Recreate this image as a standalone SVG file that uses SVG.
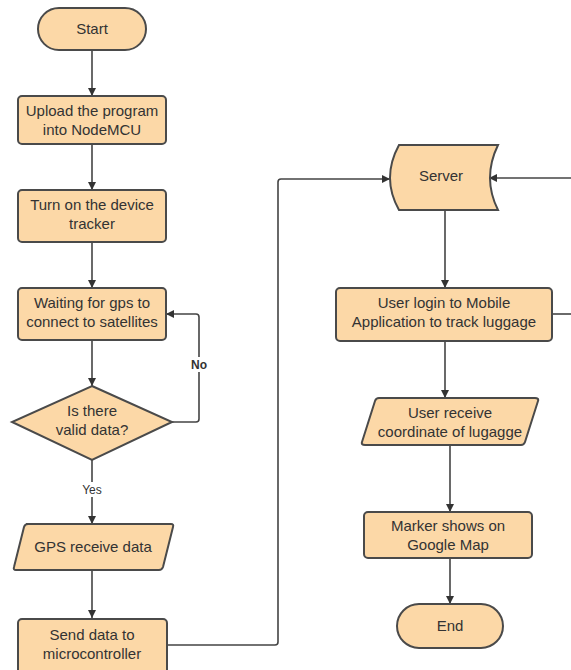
<svg xmlns="http://www.w3.org/2000/svg" width="571" height="670" viewBox="0 0 571 670">
<style>
.n{fill:#fcd8a7;stroke:#4a4a4a;stroke-width:2}
.t{font-family:"Liberation Sans",Arial,sans-serif;font-size:15px;fill:#333;text-anchor:middle}
.l{font-family:"Liberation Sans",Arial,sans-serif;font-size:12px;fill:#333;text-anchor:middle}
.c{fill:none;stroke:#444;stroke-width:1.6}
</style>
<defs>
<marker id="a" viewBox="0 0 10 10" refX="10" refY="5" markerWidth="8" markerHeight="8" markerUnits="userSpaceOnUse" orient="auto">
<path d="M0,0 L10,5 L0,10 z" fill="#333"/>
</marker>
</defs>
<rect width="571" height="670" fill="#fff"/>
<g id="connectors">
<path class="c" d="M92,50 V96" marker-end="url(#a)"/>
<path class="c" d="M92,144 V190" marker-end="url(#a)"/>
<path class="c" d="M92,242 V288" marker-end="url(#a)"/>
<path class="c" d="M92,340 V386" marker-end="url(#a)"/>
<path class="c" d="M172,422 H196 Q199,422 199,419 V317 Q199,314 196,314 H166" marker-end="url(#a)"/>
<path class="c" d="M92,460 V524" marker-end="url(#a)"/>
<path class="c" d="M92,570 V618" marker-end="url(#a)"/>
<path class="c" d="M167,645 H275 Q278,645 278,642 V182 Q278,179 281,179 H390" marker-end="url(#a)"/>
<path class="c" d="M571,178 H489" marker-end="url(#a)"/>
<path class="c" d="M552,314 H571"/>
<path class="c" d="M445,210 V288" marker-end="url(#a)"/>
<path class="c" d="M445,341 V398" marker-end="url(#a)"/>
<path class="c" d="M450,445 V512" marker-end="url(#a)"/>
<path class="c" d="M450,558 V604" marker-end="url(#a)"/>
<rect x="186" y="357" width="26" height="15" fill="#fff"/>
<text class="l" x="199" y="369" font-weight="bold">No</text>
<rect x="79" y="482" width="26" height="15" fill="#fff"/>
<text class="l" x="92" y="494">Yes</text>
</g>
<g id="start"><rect class="n" x="38" y="8" width="108" height="42" rx="21"/><text class="t" x="92" y="34">Start</text></g>
<g id="upload"><rect class="n" x="18" y="96" width="148" height="48" rx="4"/><text class="t" x="92" y="116">Upload the program</text><text class="t" x="92" y="135">into NodeMCU</text></g>
<g id="turnon"><rect class="n" x="18" y="190" width="148" height="52" rx="4"/><text class="t" x="92" y="210">Turn on the device</text><text class="t" x="92" y="229">tracker</text></g>
<g id="waiting"><rect class="n" x="18" y="288" width="148" height="52" rx="4"/><text class="t" x="92" y="308">Waiting for gps to</text><text class="t" x="92" y="327">connect to satellites</text></g>
<g id="decision"><path class="n" d="M92,386 L172,422 L92,460 L12,422 Z"/><text class="t" x="92" y="416">Is there</text><text class="t" x="92" y="435">valid data?</text></g>
<g id="gps"><path class="n" d="M26,524 H171 Q174,524 173,527 L163,567 Q162,570 159,570 H16 Q13,570 14,567 L24,527 Q25,524 28,524 Z"/><text class="t" x="93" y="552">GPS receive data</text></g>
<g id="send"><rect class="n" x="18" y="619" width="149" height="60" rx="4"/><text class="t" x="92" y="640">Send data to</text><text class="t" x="92" y="659">microcontroller</text></g>
<g id="server"><path class="n" d="M399,145 H498 Q482,178 498,210 H399 Q381,178 399,145 Z"/><text class="t" x="441" y="181">Server</text></g>
<g id="login"><rect class="n" x="336" y="288" width="216" height="53" rx="4"/><text class="t" x="444" y="308">User login to Mobile</text><text class="t" x="444" y="327">Application to track luggage</text></g>
<g id="receive"><path class="n" d="M379,398 H535 Q539,398 538,401 L525,442 Q524,445 521,445 H365 Q361,445 362,442 L375,401 Q376,398 379,398 Z"/><text class="t" x="450" y="418">User receive</text><text class="t" x="450" y="437">coordinate of lugagge</text></g>
<g id="marker"><rect class="n" x="364" y="512" width="168" height="46" rx="4"/><text class="t" x="448" y="531">Marker shows on</text><text class="t" x="448" y="550">Google Map</text></g>
<g id="end"><rect class="n" x="397" y="604" width="106" height="44" rx="22"/><text class="t" x="450" y="631">End</text></g>
</svg>
